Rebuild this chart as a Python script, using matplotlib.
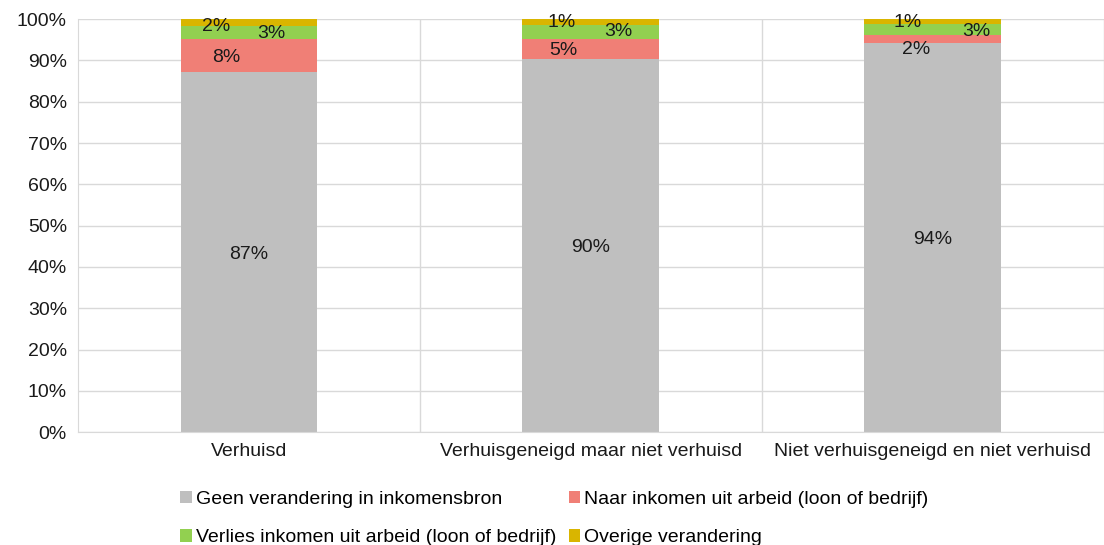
import numpy as np
import matplotlib.pyplot as plt

plt.rcParams['font.family'] = ['Liberation Sans', 'DejaVu Sans']

categories = ['Verhuisd', 'Verhuisgeneigd maar niet verhuisd', 'Niet verhuisgeneigd en niet verhuisd']
series = ['Geen verandering in inkomensbron',
          'Naar inkomen uit arbeid (loon of bedrijf)',
          'Verlies inkomen uit arbeid (loon of bedrijf)',
          'Overige verandering']
geen = [87.1, 90.3, 94.2]
naar = [8.0, 4.8, 1.9]
verlies = [3.3, 3.4, 2.6]
overig = [1.6, 1.4, 1.3]
colors = ['#bfbfbf', '#f07f76', '#92d050', '#d9b500']

# label nudges from segment centre (x in category units, y in %), as placed in the original
label_dx = [[0, 0, 0], [-0.067, -0.079, -0.05], [0.064, 0.079, 0.129], [-0.096, -0.085, -0.073]]
label_dy = [[-0.5, -0.5, -0.5], [-0.3, -0.2, -2.5], [-0.2, 0.1, -0.4], [-1.0, -0.1, -0.1]]

fig = plt.figure(figsize=(11.04, 5.45), dpi=100)
ax = fig.add_axes([0.0707, 0.207, 0.929, 0.758])

x = np.arange(len(categories))
bottom = np.zeros(len(categories))
handles = []
for i, vals in enumerate([geen, naar, verlies, overig]):
    vals = np.array(vals, dtype=float)
    h = ax.bar(x, vals, 0.4, bottom=bottom, color=colors[i], label=series[i], zorder=2)
    handles.append(h)
    for j, (xi, b, v) in enumerate(zip(x, bottom, vals)):
        ax.text(xi + label_dx[i][j], b + v / 2 + label_dy[i][j], f'{v:.0f}%',
                ha='center', va='center', fontsize=14, color='#1a1a1a', zorder=3)
    bottom += vals

ax.set_xlim(-0.5, 2.5)
ax.set_ylim(0, 100)
ax.set_yticks(np.arange(0, 101, 10))
ax.set_yticklabels([f'{t}%' for t in range(0, 101, 10)])
ax.set_xticks(x)
ax.set_xticklabels(categories)
ax.tick_params(axis='both', length=0, labelsize=14, colors='#1a1a1a')
ax.tick_params(axis='y', pad=8)
ax.tick_params(axis='x', pad=8)

ax.yaxis.grid(True, color='#d9d9d9', linewidth=1, zorder=0)
for xv in [0.5, 1.5, 2.5]:
    ax.axvline(xv, color='#d9d9d9', linewidth=1, zorder=0)
for s in ['top', 'right']:
    ax.spines[s].set_visible(False)
ax.spines['left'].set_color('#d9d9d9')
ax.spines['bottom'].set_color('#d9d9d9')

order = [0, 2, 1, 3]
fig.legend([handles[k] for k in order], [series[k] for k in order],
           loc='lower left', bbox_to_anchor=(0.156, -0.017), ncol=2, frameon=False,
           fontsize=14, handlelength=0.6, handleheight=0.6, handletextpad=0.2,
           columnspacing=0.65, labelspacing=1.1, borderaxespad=0)

fig.savefig('out.png', dpi=100)
